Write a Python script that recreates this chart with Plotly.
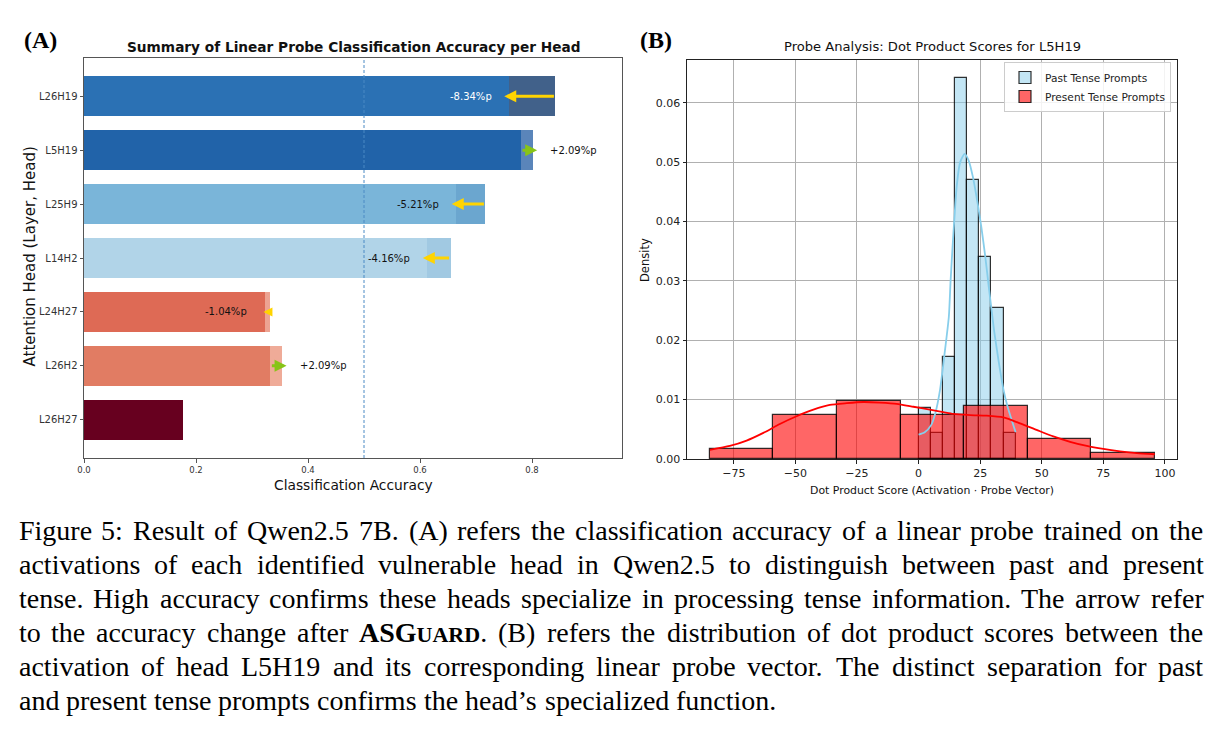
import plotly.graph_objects as go

W, H = 1219, 731

# ---------------- Panel A data ----------------
heads = ["L26H19", "L5H19", "L25H9", "L14H2", "L24H27", "L26H2", "L26H27"]
acc_before = [0.8418, 0.7803, 0.7168, 0.6546, 0.3328, 0.3328, 0.1768]
acc_after = [0.7584, 0.8012, 0.6647, 0.6130, 0.3224, 0.3537, 0.1768]
change_labels = ["-8.34%p", "+2.09%p", "-5.21%p", "-4.16%p", "-1.04%p", "+2.09%p", ""]
x_ticks_a = [0.0, 0.2, 0.4, 0.6, 0.8]
chance_level = 0.5

# ---------------- Panel B data ----------------
past_edges = [0.0, 4.93, 9.86, 14.79, 19.72, 24.65, 29.58, 34.51, 39.44]
past_density = [0.0086, 0.0044, 0.0171, 0.0641, 0.0470, 0.0341, 0.0255, 0.0044]
present_edges = [-84.7, -58.9, -33.1, -7.3, 18.5, 44.3, 70.1, 95.9]
present_density = [0.0017, 0.0074, 0.0098, 0.0074, 0.0090, 0.0034, 0.0010]

past_kde_x = [0, 2.5, 5.1, 6.8, 8.7, 10.4, 12.3, 13.0, 14.0, 15.5, 16.9, 18.7, 20.3,
              22.0, 24.2, 25.5, 27.1, 28.5, 30.7, 32.5, 34.5, 36.0, 37.3, 39.4]
past_kde_y = [0.0041, 0.0045, 0.0057, 0.0077, 0.0116, 0.0172, 0.0240, 0.0300, 0.0370,
              0.0460, 0.0500, 0.0514, 0.0503, 0.0476, 0.0425, 0.0390, 0.0340, 0.0290,
              0.0215, 0.0165, 0.0116, 0.0090, 0.0072, 0.0045]
present_kde_x = [-84.7, -76.6, -69.8, -63.0, -56.3, -49.5, -42.7, -36.0, -29.2, -22.4,
                 -15.7, -8.9, -2.1, 4.6, 10.0, 14.1, 20.9, 27.6, 34.4, 41.2, 47.9, 54.7,
                 61.5, 68.3, 75.0, 81.8, 88.6, 95.9]
present_kde_y = [0.00155, 0.0022, 0.0031, 0.0044, 0.0059, 0.0072, 0.0083, 0.0091, 0.0094,
                 0.0096, 0.0095, 0.0093, 0.0088, 0.0083, 0.0079, 0.0076, 0.0074, 0.0073,
                 0.0070, 0.0060, 0.0049, 0.0038, 0.0029, 0.0022, 0.0017, 0.0013, 0.0010,
                 0.0008]
x_ticks_b = [-75, -50, -25, 0, 25, 50, 75, 100]
y_ticks_b = [0.00, 0.01, 0.02, 0.03, 0.04, 0.05, 0.06]

caption_lines = [
    "Figure 5: Result of Qwen2.5 7B. (A) refers the classification accuracy of a linear probe trained on the",
    "activations of each identified vulnerable head in Qwen2.5 to distinguish between past and present",
    "tense. High accuracy confirms these heads specialize in processing tense information. The arrow refer",
    "to the accuracy change after ASGUARD. (B) refers the distribution of dot product scores between the",
    "activation of head L5H19 and its corresponding linear probe vector. The distinct separation for past",
    "and present tense prompts confirms the head\u2019s specialized function.",
]

# ---------------- styles ----------------
bar_colors = ["#2b71b4", "#2163a9", "#7ab5d9", "#b1d4e8", "#de6a55", "#e17c63", "#67001f"]
delta_colors = ["#41618a", "#5a85ba", "#6ba6cf", "#a1c9e2", "#eda392", "#efab98", "#67001f"]
label_colors = ["white", "#111", "#111", "#111", "#111", "#111", "#111"]
SANS = "DejaVu Sans"
SERIF = "Liberation Serif"
ARROW_OVERSHOOT = 0.008


def px(x):
    return x / W


def py(y):
    return 1 - y / H


fig = go.Figure()

base_vals = [min(b, a) for b, a in zip(acc_before, acc_after)]
delta_vals = [abs(a - b) for b, a in zip(acc_before, acc_after)]

fig.add_trace(go.Bar(y=heads, x=base_vals, orientation="h", width=0.75,
                     marker=dict(color=bar_colors, line=dict(width=0)),
                     xaxis="x", yaxis="y", showlegend=False, hoverinfo="skip"))
fig.add_trace(go.Bar(y=heads, x=delta_vals, base=base_vals, orientation="h", width=0.75,
                     marker=dict(color=delta_colors, line=dict(width=0)),
                     xaxis="x", yaxis="y", showlegend=False, hoverinfo="skip"))


def centers(edges):
    return [(edges[i] + edges[i + 1]) / 2 for i in range(len(edges) - 1)]


def widths(edges):
    return [edges[i + 1] - edges[i] for i in range(len(edges) - 1)]


fig.add_trace(go.Bar(x=centers(past_edges), y=past_density, width=widths(past_edges),
                     marker=dict(color="rgba(135,206,235,0.5)",
                                 line=dict(color="rgba(0,0,0,0.8)", width=1.2)),
                     name="Past Tense Prompts", xaxis="x2", yaxis="y2"))
fig.add_trace(go.Bar(x=centers(present_edges), y=present_density, width=widths(present_edges),
                     marker=dict(color="rgba(255,0,0,0.6)",
                                 line=dict(color="rgba(0,0,0,0.8)", width=1.2)),
                     name="Present Tense Prompts", xaxis="x2", yaxis="y2"))
fig.add_trace(go.Scatter(x=past_kde_x, y=past_kde_y, mode="lines",
                         line=dict(color="#87ceeb", width=1.8, shape="spline", smoothing=0.6),
                         showlegend=False, xaxis="x2", yaxis="y2"))
fig.add_trace(go.Scatter(x=present_kde_x, y=present_kde_y, mode="lines",
                         line=dict(color="red", width=1.8, shape="spline", smoothing=0.6),
                         showlegend=False, xaxis="x2", yaxis="y2"))

ann = []
# arrows + labels panel A
for h, b, a, lab, lc in zip(heads, acc_before, acc_after, change_labels, label_colors):
    if not lab:
        continue
    dec = a < b
    sign = -1 if dec else 1
    big = abs(a - b) > 0.015
    ext = ARROW_OVERSHOOT if big else 0.002
    ann.append(dict(x=a + sign * ext, y=h, ax=b, ay=h, xref="x", yref="y", axref="x", ayref="y",
                    text="", showarrow=True, arrowhead=2, arrowsize=0.8 if big else 0.75,
                    arrowwidth=3 if big else 2.4,
                    arrowcolor="#ffd400" if dec else "#88c417", standoff=0))
    ann.append(dict(x=a - 0.027 if dec else a + 0.028, y=h, xref="x", yref="y",
                    text=lab, showarrow=False, xanchor="right" if dec else "left",
                    font=dict(family=SANS, size=10, color=lc)))

# titles / labels
ann += [
    dict(x=px(353), y=py(47), text="<b>Summary of Linear Probe Classification Accuracy per Head</b>",
         font=dict(family=SANS, size=13.7, color="#111")),
    dict(x=px(353), y=py(485), text="Classification Accuracy", font=dict(family=SANS, size=13.8, color="#111")),
    dict(x=px(29.5), y=py(257), text="Attention Head (Layer, Head)", textangle=-90,
         font=dict(family=SANS, size=15, color="#111")),
    dict(x=px(932), y=py(47), text="Probe Analysis: Dot Product Scores for L5H19",
         font=dict(family=SANS, size=13.1, color="#111")),
    dict(x=px(932), y=py(490), text="Dot Product Score (Activation \u00b7 Probe Vector)",
         font=dict(family=SANS, size=10.9, color="#111")),
    dict(x=px(645), y=py(260), text="Density", textangle=-90, font=dict(family=SANS, size=11.5, color="#111")),
    dict(x=px(40), y=py(40), text="<b>(A)</b>", font=dict(family=SERIF, size=24, color="#000")),
    dict(x=px(656), y=py(40), text="<b>(B)</b>", font=dict(family=SERIF, size=24, color="#000")),
]
for a_ in ann:
    if "xref" not in a_:
        a_.update(xref="paper", yref="paper", showarrow=False, xanchor="center", yanchor="middle")

# caption, justified word by word using Times metrics
TIMES = {' ': 250, '(': 333, ')': 333, ',': 250, '.': 250, ':': 278, '\u2019': 333,
         '0': 500, '1': 500, '2': 500, '3': 500, '4': 500, '5': 500, '6': 500, '7': 500, '8': 500, '9': 500,
         'A': 722, 'B': 667, 'C': 667, 'D': 722, 'E': 611, 'F': 556, 'G': 722, 'H': 722, 'I': 333,
         'L': 611, 'Q': 722, 'R': 667, 'S': 556, 'T': 611, 'U': 722, 'W': 944,
         'a': 444, 'b': 500, 'c': 444, 'd': 500, 'e': 444, 'f': 333, 'g': 500, 'h': 500, 'i': 278,
         'j': 278, 'k': 500, 'l': 278, 'm': 778, 'n': 500, 'o': 500, 'p': 500, 'q': 500, 'r': 333,
         's': 389, 't': 278, 'u': 500, 'v': 500, 'w': 722, 'x': 500, 'y': 500, 'z': 444}
CAP = 28
SC = 22


def word_render(w):
    if w.startswith("ASGUARD"):
        txt = "<b>ASG<span style='font-size:%dpx'>UARD</span></b>%s" % (SC, w[7:])
        wid = (722 + 556 + 778) / 1000 * CAP + 4 * 722 / 1000 * SC + sum(TIMES[c] for c in w[7:]) / 1000 * CAP
        return txt, wid
    return w, sum(TIMES.get(c, 500) for c in w) / 1000 * CAP


left_x, right_x = 18.5, 1203.5
base0, lead = 540, 34
for li, line in enumerate(caption_lines):
    words = line.split(" ")
    rend = [word_render(w) for w in words]
    total = sum(r[1] for r in rend)
    if li < len(caption_lines) - 1:
        gap = (right_x - left_x - total) / (len(words) - 1)
    else:
        gap = 0.25 * CAP
    xcur = left_x
    yc = base0 + li * lead - 0.34 * CAP
    for txt, wid in rend:
        ann.append(dict(x=px(xcur), y=py(yc), xref="paper", yref="paper", text=txt,
                        showarrow=False, xanchor="left", yanchor="middle", borderpad=0, borderwidth=0,
                        font=dict(family=SERIF, size=CAP, color="#000")))
        xcur += wid + gap

axis_common = dict(ticks="outside", ticklen=3.5, showline=True, mirror=True, zeroline=False,
                   linewidth=1, automargin=False)

fig.update_layout(
    width=W, height=H, margin=dict(l=0, r=0, t=0, b=0, pad=0, autoexpand=False),
    paper_bgcolor="white", plot_bgcolor="white", barmode="overlay", bargap=0,
    font=dict(family=SANS, color="#111"),
    xaxis=dict(domain=[px(84), px(622)], range=[0, 0.9607], tickvals=x_ticks_a, tickformat=".1f",
               tickcolor="#555", linecolor="#555", tickfont=dict(size=8.5, color="#333"),
               showgrid=False, anchor="y", **axis_common),
    yaxis=dict(domain=[py(458), py(58)], type="category", categoryorder="array", categoryarray=heads,
               range=[6.71, -0.71], tickcolor="#555", linecolor="#555",
               tickfont=dict(size=10, color="#333"), showgrid=False, anchor="x", **axis_common),
    xaxis2=dict(domain=[px(687), px(1177)], range=[-93.99, 104.9], tickvals=x_ticks_b,
                ticktext=[str(v).replace("-", "\u2212") for v in x_ticks_b],
                tickcolor="#222", linecolor="#222", tickfont=dict(size=11, color="#222"),
                showgrid=True, gridcolor="#b0b0b0", gridwidth=0.8, anchor="y2", **axis_common),
    yaxis2=dict(domain=[py(459), py(60)], range=[0, 0.0672], tickvals=y_ticks_b, tickformat=".2f",
                tickcolor="#222", linecolor="#222", tickfont=dict(size=11, color="#222"),
                showgrid=True, gridcolor="#b0b0b0", gridwidth=0.8, anchor="x2", **axis_common),
    legend=dict(x=px(1171), y=py(62), xanchor="right", yanchor="top", bgcolor="rgba(255,255,255,0.85)",
                bordercolor="#cccccc", borderwidth=1, font=dict(family=SANS, size=10.6, color="#222"),
                itemwidth=30, tracegroupgap=0),
    annotations=ann,
    shapes=[dict(type="line", xref="x", yref="y domain", x0=chance_level, x1=chance_level, y0=0, y1=1,
                 line=dict(color="#4a8ac4", width=1, dash="3px,2px"))],
)

fig.write_html("out.html")
